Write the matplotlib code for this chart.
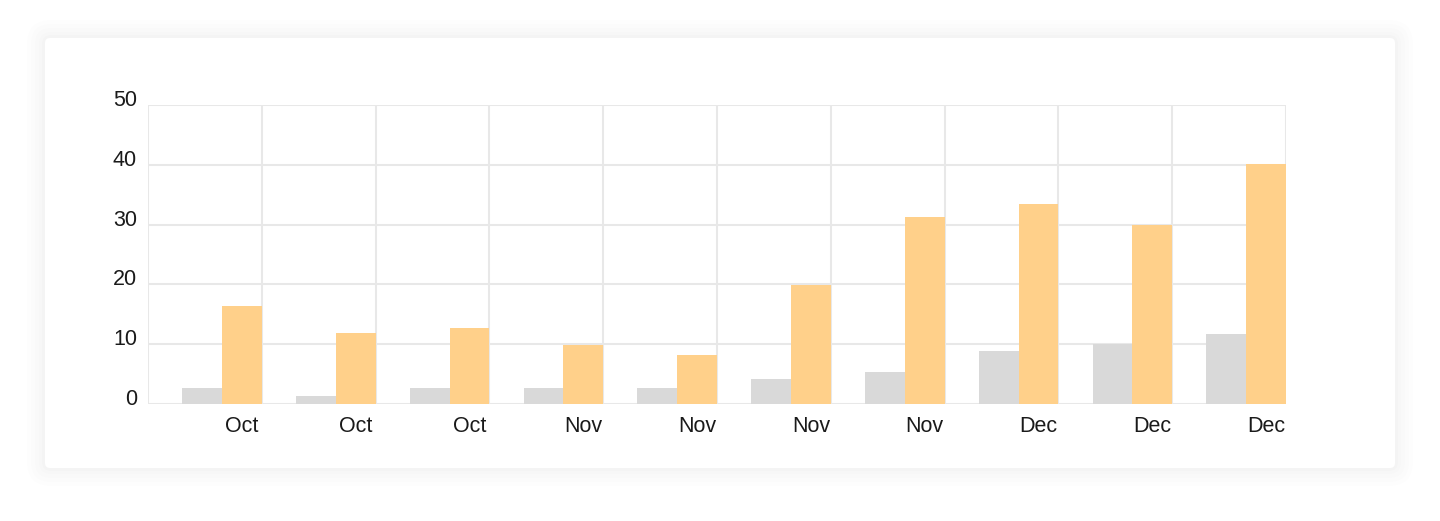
import matplotlib
matplotlib.use("Agg")
import matplotlib.pyplot as plt
import matplotlib.transforms as mtransforms
from matplotlib.patches import FancyBboxPatch
import numpy as np

categories = ["Oct", "Oct", "Oct", "Nov", "Nov", "Nov", "Nov", "Dec", "Dec", "Dec"]
series_gray = [2.7, 1.3, 2.7, 2.7, 2.7, 4.2, 5.4, 8.9, 10.0, 11.7]
series_orange = [16.4, 11.9, 12.7, 9.9, 8.2, 19.9, 31.3, 33.4, 29.9, 40.1]
y_ticks = [0, 10, 20, 30, 40, 50]

plt.rcParams['font.family'] = ['Liberation Sans', 'DejaVu Sans']

W, H = 1440, 521
fig = plt.figure(figsize=(W / 100, H / 100), dpi=100)
fig.patch.set_facecolor("white")

# card with soft shadow
for pad, alpha in [(18, 0.006), (14, 0.007), (10, 0.008), (6, 0.009), (3, 0.010)]:
    sh = FancyBboxPatch((45 - pad, H - 468 - pad), 1350 + 2 * pad, 430 + 2 * pad,
                        boxstyle="round,pad=0,rounding_size=%d" % (6 + pad),
                        transform=None, facecolor="black", alpha=alpha,
                        edgecolor="none", zorder=0)
    fig.patches.append(sh)
card = FancyBboxPatch((45, H - 468), 1350, 430, boxstyle="round,pad=0,rounding_size=5",
                      transform=None, facecolor="white", edgecolor="none", zorder=1)
fig.patches.append(card)

ax = fig.add_axes([148 / W, 117 / H, (1286 - 148) / W, 299 / H])
ax.set_facecolor("none")
ax.set_zorder(2)

n = len(categories)
x = np.arange(n)
bw = 0.35
ax.bar(x + 0.5 - 1.5 * bw, series_gray, width=bw, color="#D9D9D9", zorder=3)
ax.bar(x + 0.5 - 0.5 * bw, series_orange, width=bw, color="#FFD08A", zorder=3)

ax.set_xlim(-0.5, n - 0.5)
ax.set_ylim(0, 50)

grid_c = "#E8E8E8"
for v in y_ticks:
    ax.axhline(v, color=grid_c, lw=1.5, zorder=1)
for v in np.arange(-0.5, n, 1.0):
    ax.axvline(v, color=grid_c, lw=1.5, zorder=1)
for s in ax.spines.values():
    s.set_visible(False)

ax.set_yticks(y_ticks)
ax.set_yticklabels([str(v) for v in y_ticks])
ax.set_xticks(x + 0.5 - 0.5 * bw)
ax.set_xticklabels(categories)
ax.tick_params(axis="both", length=0, labelsize=15.5, labelcolor="#1a1a1a")
ax.tick_params(axis="y", pad=8)
ax.tick_params(axis="x", pad=9)

offset = mtransforms.ScaledTranslation(0, 7 / 100, fig.dpi_scale_trans)
for lab in ax.get_yticklabels():
    lab.set_transform(lab.get_transform() + offset)

fig.savefig("out.png", dpi=100, facecolor="white")
